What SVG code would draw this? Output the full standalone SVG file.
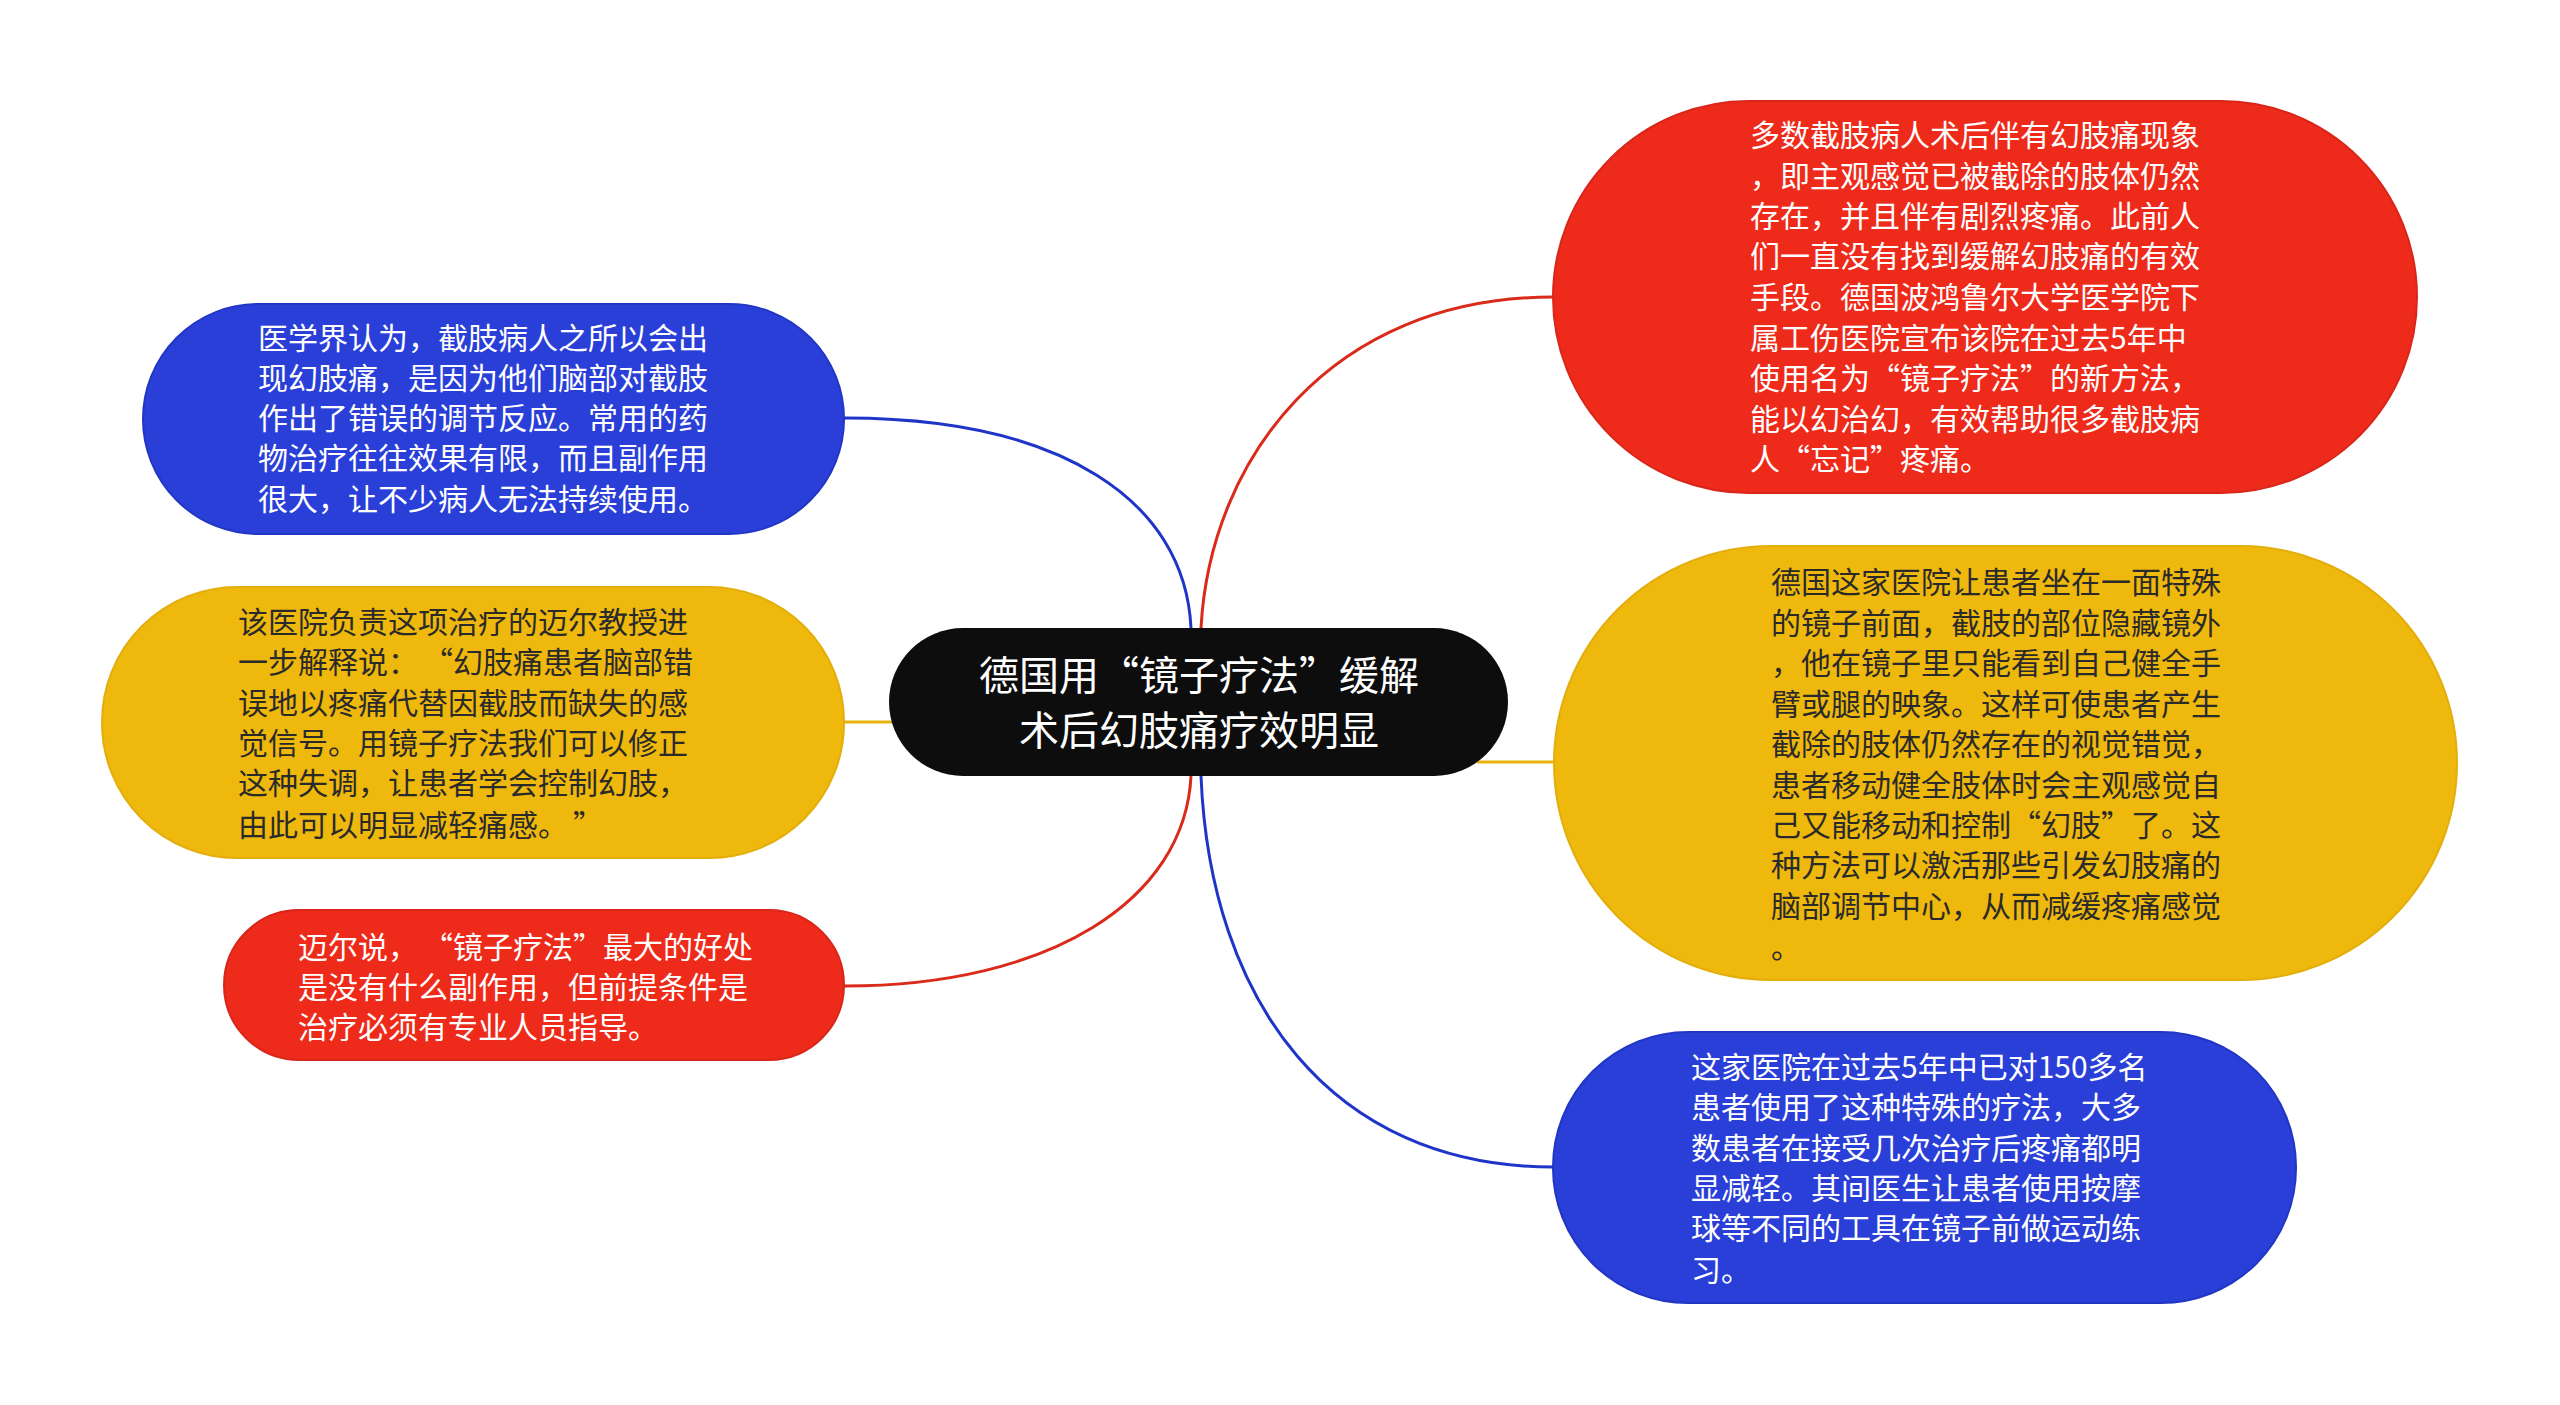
<svg xmlns="http://www.w3.org/2000/svg" width="2560" height="1405" viewBox="0 0 2560 1405">
<style>
.t{font-family:"Noto Sans CJK SC","Noto Sans",sans-serif;font-size:30px;}
.w{fill:#ffffff;}
.d{fill:#2a2a2a;}
.title{font-family:"Noto Sans CJK SC","Noto Sans",sans-serif;font-size:40px;fill:#ffffff;text-anchor:middle;}
.blue{fill:#2a3fd8;stroke:#2236c4;stroke-width:2;}
.red{fill:#ee2a1a;stroke:#d8261a;stroke-width:2;}
.yel{fill:#efb80c;stroke:#e3ae0b;stroke-width:2;}
.c{fill:none;stroke-width:3;stroke-linecap:round;}
.cb{stroke:#1f35c8;}
.cr{stroke:#d92a1a;}
.cy{stroke:#e8b20e;}
</style>
<rect width="2560" height="1405" fill="#ffffff"/>
<g id="connectors">
<path class="c cb" d="M1191 628 C1185 500 1060 418 845 418"/>
<path class="c cy" d="M845 722 L892 722"/>
<path class="c cr" d="M1191 776 C1185 900 1050 986 845 986"/>
<path class="c cr" d="M1201 628 C1210 460 1330 297 1553 297"/>
<path class="c cy" d="M1478 762 L1553 762"/>
<path class="c cb" d="M1201 776 C1210 1000 1330 1167 1553 1167"/>
</g>
<g id="center">
<rect x="889" y="628" width="619" height="148" rx="74" ry="74" fill="#0d0d0d"/>
<text class="title" x="1199" y="690">德国用“镜子疗法”缓解</text>
<text class="title" x="1199" y="745">术后幻肢痛疗效明显</text>
</g>
<g id="left1">
<rect class="blue" x="143" y="304" width="701" height="230" rx="115" ry="115"/>
<text class="t w" x="258" y="349">医学界认为，截肢病人之所以会出</text>
<text class="t w" x="258" y="389">现幻肢痛，是因为他们脑部对截肢</text>
<text class="t w" x="258" y="429">作出了错误的调节反应。常用的药</text>
<text class="t w" x="258" y="469">物治疗往往效果有限，而且副作用</text>
<text class="t w" x="258" y="510">很大，让不少病人无法持续使用。</text>
</g>
<g id="left2">
<rect class="yel" x="102" y="587" width="742" height="271" rx="135" ry="135"/>
<text class="t d" x="238" y="633">该医院负责这项治疗的迈尔教授进</text>
<text class="t d" x="238" y="673">一步解释说：<tspan dx="20">“</tspan>幻肢痛患者脑部错</text>
<text class="t d" x="238" y="714">误地以疼痛代替因截肢而缺失的感</text>
<text class="t d" x="238" y="754">觉信号。用镜子疗法我们可以修正</text>
<text class="t d" x="238" y="794">这种失调，让患者学会控制幻肢，</text>
<text class="t d" x="238" y="836">由此可以明显减轻痛感。<tspan dx="20">”</tspan></text>
</g>
<g id="left3">
<rect class="red" x="224" y="910" width="620" height="150" rx="75" ry="75"/>
<text class="t w" x="298" y="958">迈尔说，<tspan dx="20">“</tspan>镜子疗法”最大的好处</text>
<text class="t w" x="298" y="998">是没有什么副作用，但前提条件是</text>
<text class="t w" x="298" y="1038">治疗必须有专业人员指导。</text>
</g>
<g id="right1">
<rect class="red" x="1553" y="101" width="864" height="392" rx="196" ry="196"/>
<text class="t w" x="1750" y="146">多数截肢病人术后伴有幻肢痛现象</text>
<text class="t w" x="1750" y="187">，即主观感觉已被截除的肢体仍然</text>
<text class="t w" x="1750" y="227">存在，并且伴有剧烈疼痛。此前人</text>
<text class="t w" x="1750" y="267">们一直没有找到缓解幻肢痛的有效</text>
<text class="t w" x="1750" y="308">手段。德国波鸿鲁尔大学医学院下</text>
<text class="t w" x="1750" y="349">属工伤医院宣布该院在过去5年中</text>
<text class="t w" x="1750" y="389">使用名为“镜子疗法”的新方法，</text>
<text class="t w" x="1750" y="430">能以幻治幻，有效帮助很多截肢病</text>
<text class="t w" x="1750" y="470">人“忘记”疼痛。</text>
</g>
<g id="right2">
<rect class="yel" x="1554" y="546" width="903" height="434" rx="217" ry="217"/>
<text class="t d" x="1771" y="593">德国这家医院让患者坐在一面特殊</text>
<text class="t d" x="1771" y="634">的镜子前面，截肢的部位隐藏镜外</text>
<text class="t d" x="1771" y="674">，他在镜子里只能看到自己健全手</text>
<text class="t d" x="1771" y="715">臂或腿的映象。这样可使患者产生</text>
<text class="t d" x="1771" y="755">截除的肢体仍然存在的视觉错觉，</text>
<text class="t d" x="1771" y="796">患者移动健全肢体时会主观感觉自</text>
<text class="t d" x="1771" y="836">己又能移动和控制“幻肢”了。这</text>
<text class="t d" x="1771" y="876">种方法可以激活那些引发幻肢痛的</text>
<text class="t d" x="1771" y="917">脑部调节中心，从而减缓疼痛感觉</text>
<text class="t d" x="1771" y="958">。</text>
</g>
<g id="right3">
<rect class="blue" x="1553" y="1032" width="743" height="271" rx="135" ry="135"/>
<text class="t w" x="1691" y="1078">这家医院在过去5年中已对150多名</text>
<text class="t w" x="1691" y="1118">患者使用了这种特殊的疗法，大多</text>
<text class="t w" x="1691" y="1159">数患者在接受几次治疗后疼痛都明</text>
<text class="t w" x="1691" y="1199">显减轻。其间医生让患者使用按摩</text>
<text class="t w" x="1691" y="1239">球等不同的工具在镜子前做运动练</text>
<text class="t w" x="1691" y="1281">习。</text>
</g>
</svg>
